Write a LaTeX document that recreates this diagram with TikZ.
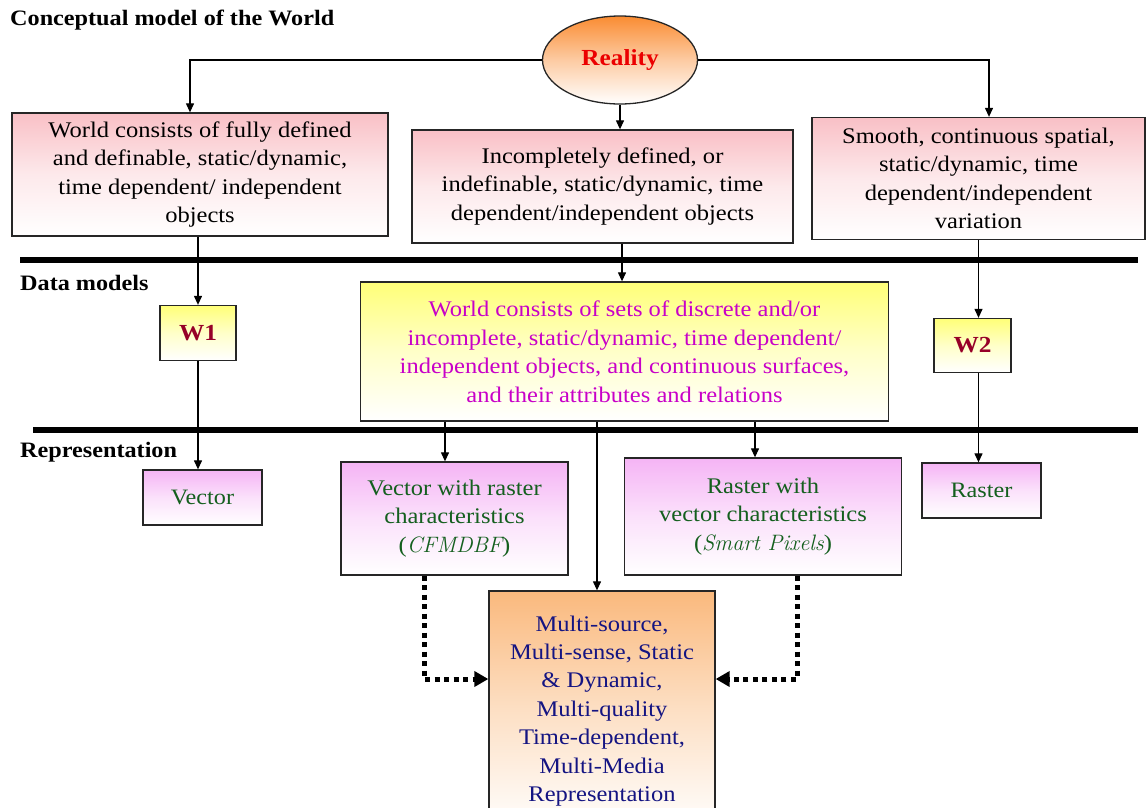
\documentclass[tikz,border=0pt]{standalone}
\usepackage{fontspec}
\setmainfont[FakeStretch=1.1]{Liberation Serif}
\usetikzlibrary{arrows.meta,shapes.geometric}
\definecolor{pinktop}{RGB}{249,192,198}
\definecolor{yeltop}{RGB}{255,255,120}
\definecolor{viotop}{RGB}{245,180,245}
\definecolor{oratop}{RGB}{250,185,125}
\definecolor{elltop}{RGB}{250,140,50}
\definecolor{magtext}{RGB}{200,0,200}
\definecolor{greentext}{RGB}{20,95,30}
\definecolor{navytext}{RGB}{20,20,130}
\definecolor{wred}{RGB}{150,0,40}
\definecolor{realred}{RGB}{235,0,0}
\newcommand\lmital[1]{{\fontfamily{lmr}\fontshape{it}\selectfont #1}}
\begin{document}
\begin{tikzpicture}[x=1pt,y=-1pt,
  box/.style={draw=black!85, line width=1.3pt, inner sep=0pt, align=center,
    font=\fontsize{22.3}{28.5}\selectfont},
  pinkbox/.style={box, top color=pinktop, bottom color=white, middle color=pinktop!35!white},
  yelbox/.style={box, top color=yeltop, bottom color=white, middle color=yeltop!40!white},
  viobox/.style={box, top color=viotop, bottom color=white, middle color=viotop!40!white, text=greentext},
  orabox/.style={box, top color=oratop, bottom color=white, middle color=oratop!45!white, text=navytext},
  wbox/.style={yelbox, text=wred, font=\fontsize{23}{26}\selectfont\bfseries},
  lbl/.style={anchor=west, inner sep=0pt, font=\fontsize{22}{26}\selectfont\bfseries},
  arr/.style={-{Triangle[length=9pt,width=8pt]}, line width=1.2pt},
  bar/.style={line width=6pt},
  dotarr/.style={line width=5pt, dash pattern=on 5pt off 4.5pt,
    -{Triangle[length=14pt,width=15pt]}}
]
\useasboundingbox (0,0) rectangle (1146,807);

% labels
\node[lbl] (t1) at (10,20) {Conceptual model of the World};
\node[lbl] (t2) at (20,283) {Data models};
\node[lbl] (t3) at (20,452) {Representation};

% bars
\coordinate (b1l) at (20,260);
\coordinate (b1r) at (1138,260);
\coordinate (b2l) at (33,430);
\coordinate (b2r) at (1138,430);
\draw[bar] (b1l) -- (b1r);
\draw[bar] (b2l) -- (b2r);

% reality
\node[ellipse, draw=black!85, line width=1.3pt, minimum width=155, minimum height=88,
  top color=elltop, bottom color=white, middle color=elltop!45!white,
  text=realred, font=\fontsize{23}{26}\selectfont\bfseries] (real) at (620,60) {\raisebox{-3pt}{Reality}};

% top boxes
\node[pinkbox, minimum width=376, minimum height=123] (b1) at (200,174.5)
  {World consists of fully defined\\and definable, static/dynamic,\\time dependent/ independent\\objects};
\node[pinkbox, minimum width=381, minimum height=113] (b2) at (602.5,186.5)
  {Incompletely defined, or\\indefinable, static/dynamic, time\\dependent/independent objects};
\node[pinkbox, minimum width=333, minimum height=122] (b3) at (978.5,178.5)
  {Smooth, continuous spatial,\\static/dynamic, time\\dependent/independent\\variation};

% data model boxes
\node[wbox, minimum width=76, minimum height=55] (w1) at (198,333) {W1};
\node[yelbox, text=magtext, minimum width=528, minimum height=139] (yel) at (624.5,351.5)
  {World consists of sets of discrete and/or\\incomplete, static/dynamic, time dependent/\\independent objects, and continuous surfaces,\\and their attributes and relations};
\node[wbox, minimum width=77, minimum height=54] (w2) at (972.5,345.5) {W2};

% representation boxes
\node[viobox, minimum width=119, minimum height=55, font=\fontsize{22}{26}\selectfont] (vec) at (202.5,497.5) {Vector};
\node[viobox, minimum width=227, minimum height=113] (vr) at (454.5,518.5)
  {Vector with raster\\characteristics\\(\lmital{CFMDBF})};
\node[viobox, minimum width=277, minimum height=117] (rv) at (763,516.5)
  {Raster with\\vector characteristics\\(\lmital{Smart Pixels})};
\node[viobox, minimum width=119, minimum height=55, font=\fontsize{22}{26}\selectfont] (ras) at (981.5,490.5) {Raster};
\node[orabox, minimum width=226, minimum height=240, font=\fontsize{22.3}{28.4}\selectfont] (mul) at (602,711)
  {Multi-source,\\Multi-sense, Static\\\& Dynamic,\\Multi-quality\\Time-dependent,\\Multi-Media\\Representation};

% connectors from reality
\draw[arr] (real.west) -| ([xshift=-10pt]b1.north);
\draw[arr] (real.east) -| ([xshift=10.5pt]b3.north);
\draw[arr] (real.south) -- (real.south |- b2.north);

% to data models
\draw[arr] (w1.north |- b1.south) -- (w1.north);
\coordinate (b2x) at (622,0);
\draw[arr] (b2.south -| b2x) -- (b2x |- yel.north);
\draw[arr] (b3.south) -- (b3.south |- w2.north);

% to representation
\draw[arr] (w1.south) -- (w1.south |- vec.north);
\draw[arr] (b3.south |- w2.south) -- (b3.south |- ras.north);
\coordinate (vrx) at (445,0);
\coordinate (mx) at (597,0);
\coordinate (rvx) at (755,0);
\draw[arr] (yel.south -| vrx) -- (vrx |- vr.north);
\draw[arr] (yel.south -| mx) -- (mx |- mul.north);
\draw[arr] (yel.south -| rvx) -- (rvx |- rv.north);

% dotted
\coordinate (dlx) at (424,0);
\coordinate (drx) at (797,0);
\coordinate (dy) at (0,679);
\draw[dotarr] (vr.south -| dlx) |- (mul.west |- dy);
\draw[dotarr] (rv.south -| drx) |- (mul.east |- dy);
\end{tikzpicture}
\end{document}
